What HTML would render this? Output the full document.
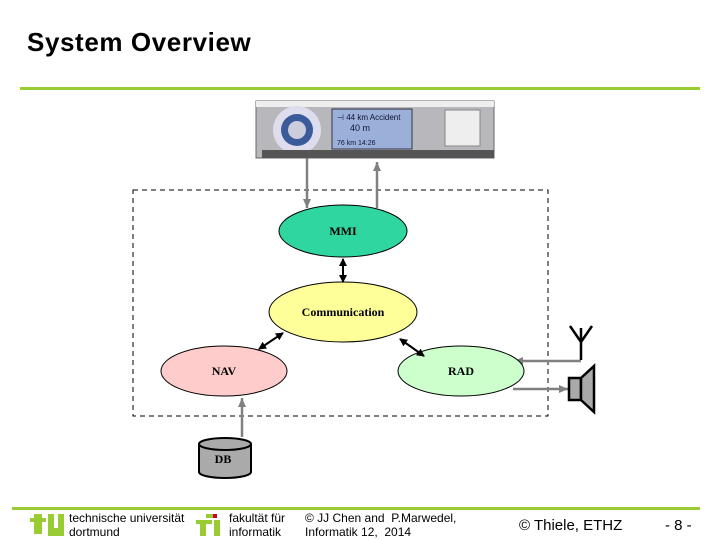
<!DOCTYPE html>
<html><head><meta charset="utf-8"><style>
body{margin:0;width:720px;height:540px;background:#fff;overflow:hidden;font-family:"Liberation Sans",sans-serif;position:relative}
.t{position:absolute;white-space:nowrap}
</style></head><body>
<div class="t" style="left:27px;top:27px;font-size:26px;font-weight:bold;letter-spacing:0.6px">System Overview</div>
<svg width="720" height="540" style="position:absolute;left:0;top:0">
<defs>
<marker id="a" markerWidth="8" markerHeight="8" refX="7" refY="4" orient="auto" markerUnits="userSpaceOnUse"><path d="M0,0L8,4L0,8z" fill="#000"/></marker>
<marker id="as" markerWidth="8" markerHeight="8" refX="1" refY="4" orient="auto" markerUnits="userSpaceOnUse"><path d="M8,0L0,4L8,8z" fill="#000"/></marker>
<marker id="g" markerWidth="10" markerHeight="10" refX="9" refY="5" orient="auto" markerUnits="userSpaceOnUse"><path d="M0,1L9,5L0,9z" fill="#808080"/></marker>
</defs>
<rect x="20" y="87" width="680" height="3" fill="#99cc33"/>
<rect x="12" y="507" width="688" height="3" fill="#99cc33"/>
<!-- device -->
<rect x="256" y="101" width="238" height="57" fill="#b8b8bc" stroke="#666"/>
<rect x="256" y="101" width="238" height="6" fill="#eee"/>
<circle cx="297" cy="130" r="24" fill="#dde"/>
<circle cx="297" cy="130" r="16" fill="#3a5a9a"/>
<circle cx="297" cy="130" r="9" fill="#ccd"/>
<rect x="332" y="109" width="80" height="40" fill="#9ab0d8" stroke="#334"/>
<text x="337" y="120" font-size="8" fill="#113">⊣ 44 km Accident</text>
<text x="350" y="131" font-size="9" fill="#113">40 m</text>
<text x="337" y="145" font-size="7" fill="#113">76 km 14:26</text>
<rect x="445" y="110" width="35" height="36" fill="#eee" stroke="#888"/>
<rect x="262" y="150" width="232" height="8" fill="#555"/>
<!-- dashed box -->
<rect x="133" y="190" width="415" height="226" fill="none" stroke="#000" stroke-dasharray="5,4"/>
<!-- gray arrows -->
<line x1="307" y1="158" x2="307" y2="208" stroke="#808080" stroke-width="2.5" marker-end="url(#g)"/>
<line x1="377" y1="208" x2="377" y2="162" stroke="#808080" stroke-width="2.5" marker-end="url(#g)"/>
<line x1="242" y1="437" x2="242" y2="398" stroke="#808080" stroke-width="2.5" marker-end="url(#g)"/>
<line x1="581" y1="361" x2="514" y2="361" stroke="#808080" stroke-width="2.5" marker-end="url(#g)"/>
<line x1="513" y1="389" x2="568" y2="389" stroke="#808080" stroke-width="2.5" marker-end="url(#g)"/>
<!-- ellipses -->
<ellipse cx="343" cy="231" rx="64" ry="26" fill="#2fd6a0" stroke="#000"/>
<ellipse cx="343" cy="312" rx="74" ry="30" fill="#ffff99" stroke="#000"/>
<ellipse cx="224" cy="371" rx="63" ry="25" fill="#ffcccc" stroke="#000"/>
<ellipse cx="461" cy="371" rx="63" ry="25" fill="#ccffcc" stroke="#000"/>
<g font-family="Liberation Serif,serif" font-size="12" font-weight="bold" text-anchor="middle">
<text x="343" y="235">MMI</text>
<text x="343" y="316">Communication</text>
<text x="224" y="375">NAV</text>
<text x="461" y="375">RAD</text>
</g>
<!-- black double arrows -->
<line x1="343" y1="259" x2="343" y2="282" stroke="#000" stroke-width="2" marker-end="url(#a)" marker-start="url(#as)"/>
<line x1="259" y1="349" x2="283" y2="333" stroke="#000" stroke-width="2" marker-end="url(#a)" marker-start="url(#as)"/>
<line x1="400" y1="339" x2="424" y2="356" stroke="#000" stroke-width="2" marker-end="url(#a)" marker-start="url(#as)"/>
<!-- DB -->
<path d="M199,444 L199,472 A26,6 0 0 0 251,472 L251,444" fill="#aaa" stroke="#000" stroke-width="2"/>
<ellipse cx="225" cy="444" rx="26" ry="6" fill="#aaa" stroke="#000" stroke-width="2"/>
<text x="223" y="463" font-family="Liberation Serif,serif" font-size="12" font-weight="bold" text-anchor="middle">DB</text>
<!-- antenna -->
<path d="M581,360 L581,342 M570,326 L581,342 L592,326 M581,342 L581,328" stroke="#000" stroke-width="2.5" fill="none"/>
<!-- speaker -->
<rect x="569" y="378" width="12" height="22" fill="#aaa" stroke="#000" stroke-width="2.5"/>
<path d="M581,378 L594,366 L594,412 L581,400z" fill="#aaa" stroke="#000" stroke-width="2.5"/>
<!-- footer logos -->
<path d="M34,514 L42,514 L42,534 L34,534 Z M30,518 L46,518 L46,522 L30,522Z" fill="#99cc33"/>
<path d="M48,514 L54,514 L54,528 L58,528 L58,514 L64,514 L64,536 L48,536Z" fill="#99cc33"/>
<path d="M200,520 L206,520 L206,536 L200,536Z M196,520 L212,520 L212,524 L196,524Z M206,514 L214,514 L214,518 L206,518Z M214,520 L220,520 L220,536 L214,536Z" fill="#99cc33"/>
<rect x="213" y="514" width="4" height="4" fill="#cc0033"/>
</svg>
<div class="t" style="left:69px;top:511px;font-size:12px;line-height:14px">technische universität<br>dortmund</div>
<div class="t" style="left:229px;top:511px;font-size:12px;line-height:14px">fakultät für<br>informatik</div>
<div class="t" style="left:305px;top:511px;font-size:12px;line-height:14px">© JJ Chen and&nbsp; P.Marwedel,<br>Informatik 12,&nbsp; 2014</div>
<div class="t" style="left:519px;top:517px;font-size:15px">© Thiele, ETHZ</div>
<div class="t" style="left:665px;top:517px;font-size:15px">- 8 -</div>
</body></html>
